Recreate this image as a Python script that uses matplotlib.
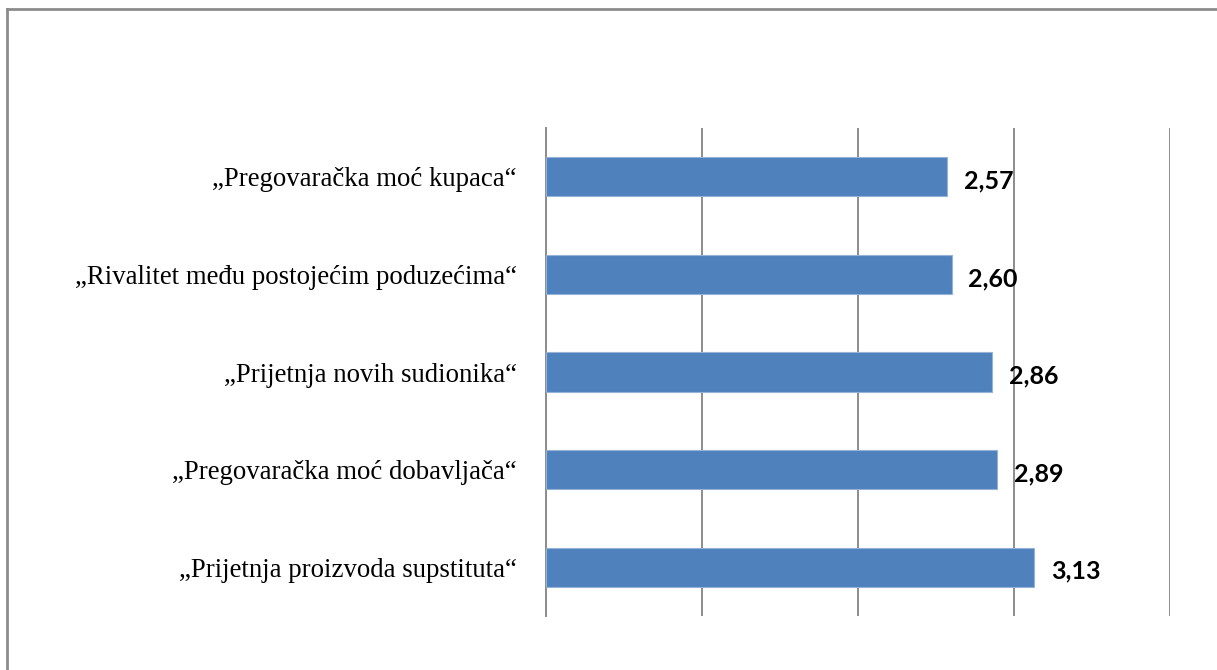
import matplotlib.pyplot as plt
from matplotlib.lines import Line2D

labels = ['„Prijetnja proizvoda supstituta“',
          '„Pregovaračka moć dobavljača“',
          '„Prijetnja novih sudionika“',
          '„Rivalitet među postojećim poduzećima“',
          '„Pregovaračka moć kupaca“']
values = [3.13, 2.89, 2.86, 2.60, 2.57]
value_text = ['3,13', '2,89', '2,86', '2,60', '2,57']

fig = plt.figure(figsize=(12.17, 6.70), dpi=100)
ax = fig.add_axes([546/1217, 1 - 616/670, (1170-546)/1217, (616-128)/670])

ypos = list(range(len(labels)))
ax.barh(ypos, values, height=0.40, color='#4F81BD', edgecolor='#95B3D7', linewidth=0.8, zorder=3)

ax.set_xlim(0, 4)
ax.set_ylim(-0.5, len(labels) - 0.5)
ax.set_xticks([0, 1, 2, 3, 4])
ax.xaxis.grid(True, color='#8c8c8c', linewidth=1.4)
ax.tick_params(axis='x', length=0, labelbottom=False)
ax.tick_params(axis='y', length=0, pad=21)
ax.set_yticks(ypos)
ax.set_yticklabels(labels, fontfamily='Liberation Serif', fontsize=19.3)

for s in ['top', 'right', 'bottom']:
    ax.spines[s].set_visible(False)
ax.spines['left'].set_color('#8c8c8c')
ax.spines['left'].set_linewidth(1.4)

for y, v, t in zip(ypos, values, value_text):
    ax.annotate(t, (v, y), xytext=(12, -3), textcoords='offset points',
                va='center', ha='left', fontsize=18, fontweight='bold',
                fontfamily='Lato', color='black')

# outer frame (only top and left edges visible)
fig.add_artist(Line2D([6.5/1217, 1], [1 - 8.5/670, 1 - 8.5/670], color='#8c8c8c', linewidth=2))
fig.add_artist(Line2D([6.5/1217, 6.5/1217], [0, 1 - 8.5/670], color='#8c8c8c', linewidth=2))

fig.savefig('out.png', dpi=100)
